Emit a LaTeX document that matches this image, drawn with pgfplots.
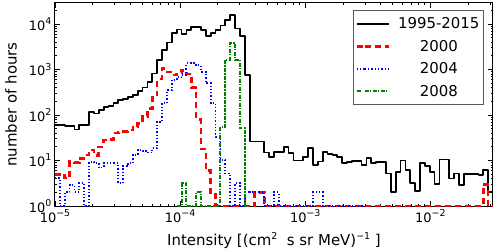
\documentclass[border=0pt]{standalone}
\usepackage{fontspec}
\setmainfont{DejaVu Sans}
\usepackage{pgfplots}
\usepackage{pgfplotstable}
\pgfplotsset{compat=1.18}
\newcommand{\sps}[1]{\raisebox{0.45em}{\fontsize{9.5}{10}\selectfont #1}}
\definecolor{mplgreen}{rgb}{0,0.5,0}

% bin edges (left edge of each bin) and counts; last row closes the final bin
\pgfplotstableread{
x y
1.0000e-5 60
1.0937e-5 60
1.1961e-5 57
1.3082e-5 57
1.4307e-5 48
1.5647e-5 60
1.7113e-5 60
1.8716e-5 116
2.0469e-5 108
2.2387e-5 129
2.4484e-5 150
2.6777e-5 158
2.9286e-5 181
3.2029e-5 215
3.5029e-5 228
3.8312e-5 253
4.1900e-5 275
4.5826e-5 335
5.0119e-5 405
5.4813e-5 540
5.9948e-5 820
6.5563e-5 1600
7.1706e-5 2700
7.8423e-5 3900
8.5770e-5 6300
9.3804e-5 7600
1.0259e-4 6000
1.1220e-4 7400
1.2271e-4 8500
1.3421e-4 8700
1.4678e-4 7400
1.6053e-4 5500
1.7557e-4 6300
1.9201e-4 7400
2.1000e-4 9300
2.2967e-4 12300
2.5119e-4 15800
2.7472e-4 8000
3.0046e-4 5400
3.2860e-4 760
3.5938e-4 26
3.9305e-4 26
4.2987e-4 26
4.7014e-4 15
5.1418e-4 12
5.6234e-4 15.6
6.1502e-4 15.6
6.7263e-4 20
7.3564e-4 14.4
8.0456e-4 10
8.7992e-4 10
9.6235e-4 12
1.0525e-3 19
1.1511e-3 8
1.2589e-3 9.5
1.3768e-3 15.6
1.5058e-3 14
1.6469e-3 13
1.8012e-3 12
1.9699e-3 8.7
2.1544e-3 9.4
2.3562e-3 9.9
2.5770e-3 9.9
2.8184e-3 8
3.0824e-3 11.2
3.3711e-3 8.7
3.6869e-3 9.4
4.0323e-3 9.4
4.4100e-3 5.2
4.8231e-3 2.0
5.2749e-3 5.5
5.7690e-3 10
6.3096e-3 6.2
6.9006e-3 3.2
7.5470e-3 2.1
8.2540e-3 8.7
9.0272e-3 7.7
9.8728e-3 5.5
1.0798e-2 3.0
1.1809e-2 10.6
1.2915e-2 10.6
1.4125e-2 4.0
1.5448e-2 5.2
1.6895e-2 2.9
1.8478e-2 5.0
2.0209e-2 5.0
2.2102e-2 5.0
2.4172e-2 4.8
2.6437e-2 6.2
2.8913e-2 2.0
3.1623e-2 2.0
}\tall

\pgfplotstableread{
x y
1.0000e-5 5
1.0937e-5 5
1.1961e-5 4.1
1.3082e-5 9.4
1.4307e-5 9.0
1.5647e-5 11.2
1.7113e-5 13.2
1.8716e-5 17
2.0469e-5 13
2.2387e-5 20
2.4484e-5 28
2.6777e-5 29
2.9286e-5 40
3.2029e-5 41
3.5029e-5 43
3.8312e-5 47
4.1900e-5 55
4.5826e-5 65
5.0119e-5 92
5.4813e-5 140
5.9948e-5 275
6.5563e-5 620
7.1706e-5 1050
7.8423e-5 880
8.5770e-5 760
9.3804e-5 850
1.0259e-4 960
1.1220e-4 800
1.2271e-4 400
1.3421e-4 80
1.4678e-4 18
1.6053e-4 6
1.7557e-4 2
1.9201e-4 1
3.9305e-4 2
4.2987e-4 2
4.7014e-4 1
2.6437e-2 3
2.8913e-2 1
3.1623e-2 1
}\tred

\pgfplotstableread{
x y
1.0000e-5 4.1
1.0937e-5 1
1.1961e-5 2.0
1.3082e-5 2.9
1.4307e-5 2.0
1.5647e-5 3.2
1.7113e-5 1
1.8716e-5 9.4
2.0469e-5 8.7
2.2387e-5 7
2.4484e-5 8.7
2.6777e-5 8.7
2.9286e-5 8.7
3.2029e-5 3.2
3.5029e-5 7.5
3.8312e-5 8.7
4.1900e-5 13.2
4.5826e-5 17
5.0119e-5 16
5.4813e-5 15
5.9948e-5 18.6
6.5563e-5 71
7.1706e-5 181
7.8423e-5 355
8.5770e-5 590
9.3804e-5 675
1.0259e-4 760
1.1220e-4 1370
1.2271e-4 1370
1.3421e-4 1250
1.4678e-4 895
1.6053e-4 500
1.7557e-4 181
1.9201e-4 33
2.1000e-4 10.2
2.2967e-4 5.2
2.5119e-4 1
2.7472e-4 3.2
3.0046e-4 1
3.2860e-4 2
3.5938e-4 2
3.9305e-4 2
4.2987e-4 2
4.7014e-4 1
5.6234e-4 2
6.1502e-4 1
1.1511e-3 2
1.2589e-3 2
1.3768e-3 1
3.0824e-3 1
}\tblue

\pgfplotstableread{
x y
9.3804e-5 1
1.0259e-4 3.2
1.1220e-4 1
1.3421e-4 2
1.4678e-4 1
2.1000e-4 55
2.2967e-4 1660
2.5119e-4 3880
2.7472e-4 1620
3.0046e-4 51
3.2860e-4 1
3.5938e-4 1
}\tgreen

\begin{document}
\begin{tikzpicture}
\useasboundingbox (-55bp,-43bp) rectangle (444bp,206bp);
\begin{axis}[
  at={(0,0)}, anchor=south west,
  scale only axis, width=438bp, height=203bp,
  xmode=log, ymode=log,
  xmin=1e-5, xmax=3.1623e-2, ymin=1, ymax=2.9e4,
  xtick={1e-5,1e-4,1e-3,1e-2},
  xticklabels={10\sps{−5},10\sps{−4},10\sps{−3},10\sps{−2}},
  ytick={1,10,100,1000,10000},
  yticklabels={10\sps{0},10\sps{1},10\sps{2},10\sps{3},10\sps{4}},
  minor xtick={2e-5,3e-5,4e-5,5e-5,6e-5,7e-5,8e-5,9e-5,2e-4,3e-4,4e-4,5e-4,6e-4,7e-4,8e-4,9e-4,2e-3,3e-3,4e-3,5e-3,6e-3,7e-3,8e-3,9e-3,2e-2,3e-2},
  minor ytick={2,3,4,5,6,7,8,9,20,30,40,50,60,70,80,90,200,300,400,500,600,700,800,900,2000,3000,4000,5000,6000,7000,8000,9000,20000},
  tick align=inside,
  major tick length=5bp, minor tick length=2.5bp,
  every tick/.style={black, line width=0.8bp},
  axis line style={line width=1bp},
  tick label style={font=\fontsize{13}{15}\selectfont},
  label style={font=\fontsize{15}{18}\selectfont},
  xlabel={Intensity [(cm\sps{2}\ \ s sr MeV)\sps{−1}\ ]},
  ylabel={number of hours},
  xlabel style={at={(axis description cs:0.5,-0.197)}, anchor=base},
  ylabel style={at={(axis description cs:-0.0875,0.5)}, anchor=base},
  legend cell align=center,
  legend image code/.code={\path (0bp,0bp) -- (8bp,0bp); \draw[#1] (8bp,0bp) -- (32bp,0bp);},
  legend style={at={(1,1)}, anchor=north east, xshift=-9bp, yshift=-7bp,
    draw=black!65, line width=1bp, fill=white,
    font=\fontsize{15}{18}\selectfont,
    inner xsep=2bp, inner ysep=5bp, row sep=6bp, column sep=6bp},
]
\addplot[const plot mark left, draw=black, line width=1.7bp, line join=round] table[x=x,y=y]{\tall};
\addlegendentry{1995-2015}
\addplot[const plot mark left, draw=red, line width=2.6bp, dash pattern=on 6bp off 4bp] table[x=x,y=y]{\tred};
\addlegendentry{2000}
\addplot[const plot mark left, draw=blue, line width=1.8bp, dash pattern=on 1.3bp off 2bp] table[x=x,y=y]{\tblue};
\addlegendentry{2004}
\addplot[const plot mark left, draw=mplgreen, line width=2bp, dash pattern=on 4bp off 4bp,
  legend image code/.code={\path (0bp,0bp) -- (8bp,0bp);
    \draw[mplgreen, line width=2bp, dash pattern=on 4bp off 4bp] (8bp,0bp) -- (32bp,0bp);
    \draw[mplgreen, line width=2bp, dash pattern=on 1.2bp off 6.8bp, dash phase=2.6bp] (8bp,0bp) -- (32bp,0bp);}]
  table[x=x,y=y]{\tgreen};
\addlegendentry{2008}
\addplot[forget plot, const plot mark left, draw=mplgreen, line width=2bp, dash pattern=on 1.2bp off 6.8bp, dash phase=2.6bp] table[x=x,y=y]{\tgreen};
\end{axis}
\end{tikzpicture}
\end{document}
